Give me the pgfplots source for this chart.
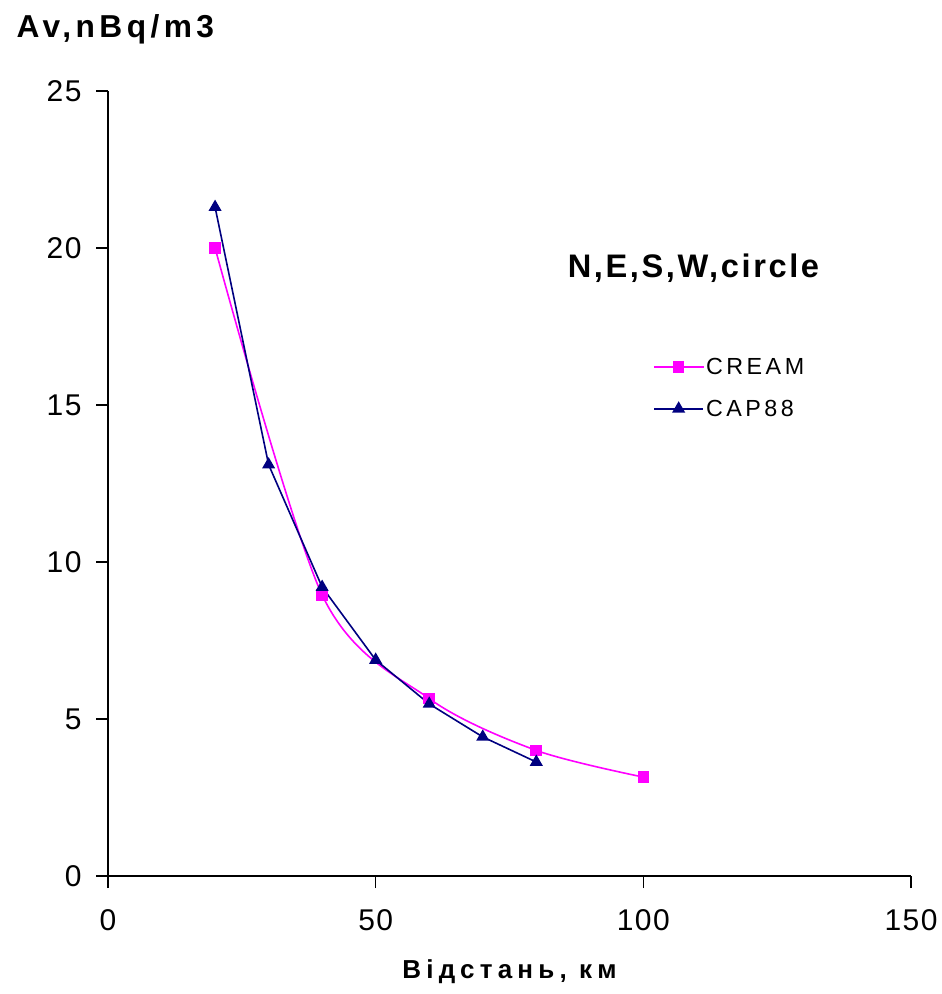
\documentclass[border=0pt]{standalone}
\usepackage{fontspec}
\setmainfont{Liberation Sans}
\newfontfamily\tickfont[LetterSpace=5]{Liberation Sans}
\newfontfamily\legfont[LetterSpace=15]{Liberation Sans}
\newfontfamily\xlabfont[LetterSpace=20]{Liberation Sans}
\newfontfamily\titfont[LetterSpace=14]{Liberation Sans}
\newfontfamily\subfont[LetterSpace=8]{Liberation Sans}
\usepackage{pgfplots}
\pgfplotsset{compat=1.18}
\definecolor{cream}{HTML}{FF00FF}
\definecolor{capnavy}{HTML}{000080}
\begin{document}
\begin{tikzpicture}
\begin{axis}[
  scale only axis, width=803pt, height=785pt,
  xmin=0, xmax=150, ymin=0, ymax=25,
  xtick={0,50,100,150}, ytick={0,5,10,15,20,25},
  axis lines*=left,
  tick align=outside, major tick length=12pt,
  tick style={black, line width=1.2pt},
  axis line style={black, line width=1.5pt},
  every tick label/.append style={font=\tickfont\fontsize{30}{34}\selectfont},
  xticklabel style={yshift=-18pt},
  yticklabel style={xshift=-11pt},
  /pgf/number format/assume math mode=true,
  clip=false,
  xlabel={Відстань, км},
  xlabel style={font=\bfseries\xlabfont\fontsize{26}{30}\selectfont, at={(axis description cs:0.5,-0.122)}, anchor=center},
  legend style={at={(0.675,0.665)}, anchor=north west, draw=none, fill=none,
    font=\legfont\fontsize{23.3}{27}\selectfont, row sep=20pt, cells={anchor=west}},
  legend image code/.code={\draw[mark repeat=2,mark phase=2] plot coordinates {(0cm,0cm)(0.865cm,0cm)(1.73cm,0cm)};},
]
\addplot[cream, line width=1.6pt, smooth, mark=square*, mark size=5pt, mark options={solid}]
  coordinates {(20,20.0)(40,8.95)(60,5.65)(80,4.0)(100,3.15)};
\addlegendentry{CREAM}
\addplot[capnavy, line width=1.6pt, mark=triangle*, mark size=6pt, mark options={solid}]
  coordinates {(20,21.3)(30,13.1)(40,9.2)(50,6.88)(60,5.48)(70,4.43)(80,3.63)};
\addlegendentry{CAP88}
\node[font=\bfseries\titfont\fontsize{31.7}{34}\selectfont, anchor=base west] at (axis description cs:-0.1183,1.068) {Av,nBq/m3};
\node[font=\bfseries\subfont\fontsize{32.6}{36}\selectfont, anchor=base] at (axis description cs:0.729,0.7618) {N,E,S,W,circle};
\path (axis description cs:-0.1345,1.1159) rectangle (axis description cs:1.0374,-0.1503);
\end{axis}
\end{tikzpicture}
\end{document}
